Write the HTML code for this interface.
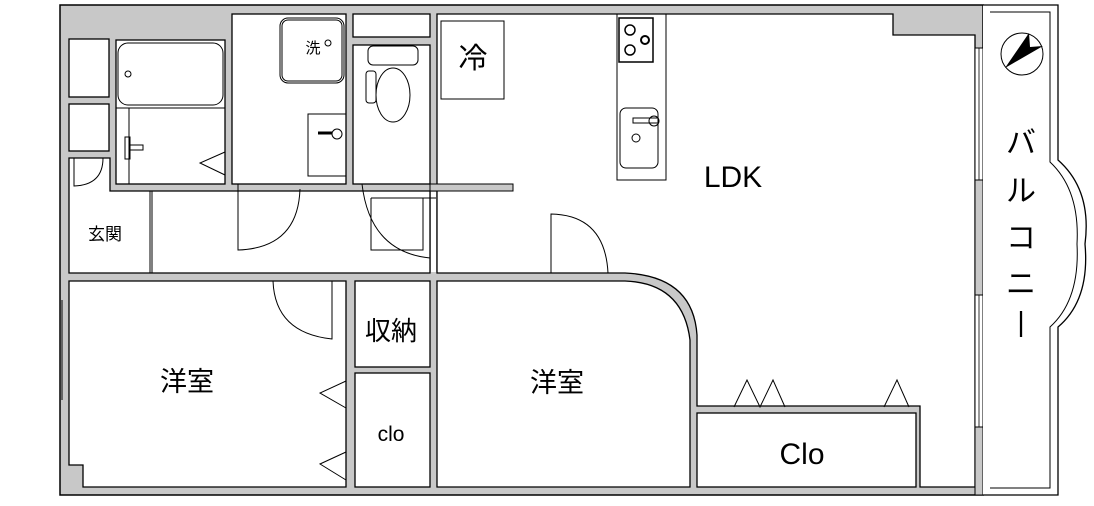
<!DOCTYPE html>
<html><head><meta charset="utf-8"><style>
html,body{margin:0;padding:0;background:#fff;}
svg{display:block;}
text{font-family:"Liberation Sans","Noto Sans CJK JP",sans-serif;fill:#000;}
</style></head><body>
<svg width="1094" height="506" viewBox="0 0 1094 506" xmlns="http://www.w3.org/2000/svg">
<rect width="1094" height="506" fill="#fff"/>
<rect x="60" y="5" width="923" height="490" fill="#c8c8c8" stroke="#000" stroke-width="1.5"/>
<g fill="#fff" stroke="#000" stroke-width="1.3">
<rect x="69" y="39" width="40" height="58"/>
<rect x="69" y="104" width="40" height="47"/>
<path d="M69,158 H110 V191 H430 V273 H69 Z"/>
<rect x="116" y="40" width="109" height="144"/>
<rect x="232" y="14" width="114" height="170"/>
<rect x="353" y="14" width="77" height="23"/>
<rect x="353" y="45" width="77" height="139"/>
<path d="M437,14 H893 V35 H975 V487 H920 V406 H697 V335 Q693,276 625,273 H437 Z"/>
<path d="M69,281 H346 V487 H83 V465 H69 Z"/>
<rect x="355" y="281" width="75" height="86"/>
<rect x="355" y="373" width="75" height="114"/>
<path d="M437,281 H625 Q683,283 690,340 V487 H437 Z"/>
<rect x="697" y="413" width="219" height="74"/>
</g>
<rect x="431" y="192" width="5" height="80" fill="#fff"/>
<line x1="150" y1="191" x2="150" y2="273" stroke="#000" stroke-width="1"/>
<line x1="152" y1="191" x2="152" y2="273" stroke="#000" stroke-width="1"/>
<rect x="430" y="184" width="83" height="7" fill="#c8c8c8" stroke="#000" stroke-width="1"/>
<rect x="975" y="48" width="8" height="447" fill="#fff" stroke="#000" stroke-width="1"/>
<rect x="975" y="180" width="8" height="115" fill="#c8c8c8" stroke="#000" stroke-width="1"/>
<rect x="975" y="427" width="8" height="68" fill="#c8c8c8" stroke="#000" stroke-width="1"/>
<line x1="979" y1="48" x2="979" y2="180" stroke="#000" stroke-width="0.8"/>
<line x1="979" y1="295" x2="979" y2="427" stroke="#000" stroke-width="0.8"/>
<line x1="62" y1="300" x2="62" y2="400" stroke="#000"/>
<path d="M983,5 H1058 V160 Q1092,190 1085,244 Q1090,300 1058,327 V495 H983" fill="#fff" stroke="#000" stroke-width="1.3"/>
<path d="M990,12 H1050 V162 Q1080,190 1077,244 Q1080,300 1050,327 V488 H990" fill="none" stroke="#000" stroke-width="1"/>
<circle cx="1022" cy="54" r="21" fill="#fff" stroke="#000"/>
<path d="M1005,68 L1029,33 L1030,47 L1043,46 Z" fill="#000"/>
<rect x="118" y="43" width="105" height="62" rx="10" fill="none" stroke="#000"/>
<circle cx="128" cy="74" r="3" fill="none" stroke="#000"/>
<line x1="116" y1="108" x2="225" y2="108" stroke="#000"/>
<line x1="129" y1="108" x2="129" y2="184" stroke="#000"/>
<rect x="125" y="137" width="5" height="22" fill="none" stroke="#000"/>
<rect x="130" y="145" width="13" height="5" fill="none" stroke="#000"/>
<path d="M225,152 L200,163 L225,175" fill="none" stroke="#000"/>
<rect x="280" y="18" width="64" height="65" rx="8" fill="none" stroke="#000"/>
<rect x="282" y="20" width="60" height="61" rx="6" fill="none" stroke="#000"/>
<circle cx="328" cy="43" r="3" fill="none" stroke="#000"/>
<rect x="308" y="114" width="38" height="62" fill="none" stroke="#000"/>
<line x1="318" y1="133" x2="335" y2="133" stroke="#000" stroke-width="3"/>
<circle cx="337" cy="134" r="5" fill="#fff" stroke="#000"/>
<rect x="368" y="46" width="50" height="19" rx="5" fill="none" stroke="#000"/>
<ellipse cx="393" cy="95" rx="17" ry="27" fill="none" stroke="#000"/>
<rect x="366" y="71" width="10" height="32" rx="3" fill="#fff" stroke="#000"/>
<rect x="441" y="21" width="63" height="78" fill="none" stroke="#000"/>
<rect x="617" y="14" width="49" height="166" fill="none" stroke="#000"/>
<rect x="619" y="18" width="34" height="44" fill="none" stroke="#000" stroke-width="1.5"/>
<circle cx="630" cy="30" r="5" fill="none" stroke="#000" stroke-width="1.5"/>
<circle cx="645" cy="40" r="4" fill="none" stroke="#000" stroke-width="2"/>
<circle cx="630" cy="50" r="5" fill="none" stroke="#000" stroke-width="1.5"/>
<rect x="620" y="108" width="38" height="60" rx="6" fill="none" stroke="#000"/>
<rect x="633" y="118" width="25" height="5" fill="#fff" stroke="#000"/>
<circle cx="654" cy="121" r="5" fill="none" stroke="#000"/>
<circle cx="636" cy="138" r="4" fill="none" stroke="#000"/>
<g fill="none" stroke="#000" stroke-width="1">
<path d="M103,158 Q103,185 74,186 V158"/>
<path d="M238,184 V250 Q298,248 300,189"/>
<path d="M362,184 Q370,252 430,258"/>
<path d="M371,198 H436 M371,198 V250 H423 V198"/>
<path d="M551,273 V214 Q605,215 608,273"/>
<path d="M273,281 Q275,333 332,339 V281"/>
<path d="M346,381 L320,393 L346,408"/>
<path d="M346,452 L320,464 L346,480"/>
<path d="M734,407 L747,380 L760,407 L773,380 L785,407"/>
<path d="M884,407 L897,380 L909,407"/>
<line x1="734" y1="413" x2="910" y2="413"/>
</g>
<text x="313" y="53" font-size="15" text-anchor="middle">洗</text>
<text x="473" y="68" font-size="29" text-anchor="middle">冷</text>
<text x="733" y="187" font-size="30" text-anchor="middle">LDK</text>
<text x="105" y="240" font-size="17" text-anchor="middle">玄関</text>
<text x="391" y="340" font-size="26" text-anchor="middle">収納</text>
<text x="187" y="391" font-size="27" text-anchor="middle">洋室</text>
<text x="557" y="392" font-size="27" text-anchor="middle">洋室</text>
<text x="391" y="441" font-size="21" text-anchor="middle">clo</text>
<text x="802" y="464" font-size="30" text-anchor="middle">Clo</text>
<g font-size="30" text-anchor="middle">
<text x="1021" y="153">バ</text>
<text x="1021" y="201">ル</text>
<text x="1021" y="248">コ</text>
<text x="1021" y="294">ニ</text>
<text x="1021" y="331" font-size="28">|</text>
</g>
</svg>
</body></html>
